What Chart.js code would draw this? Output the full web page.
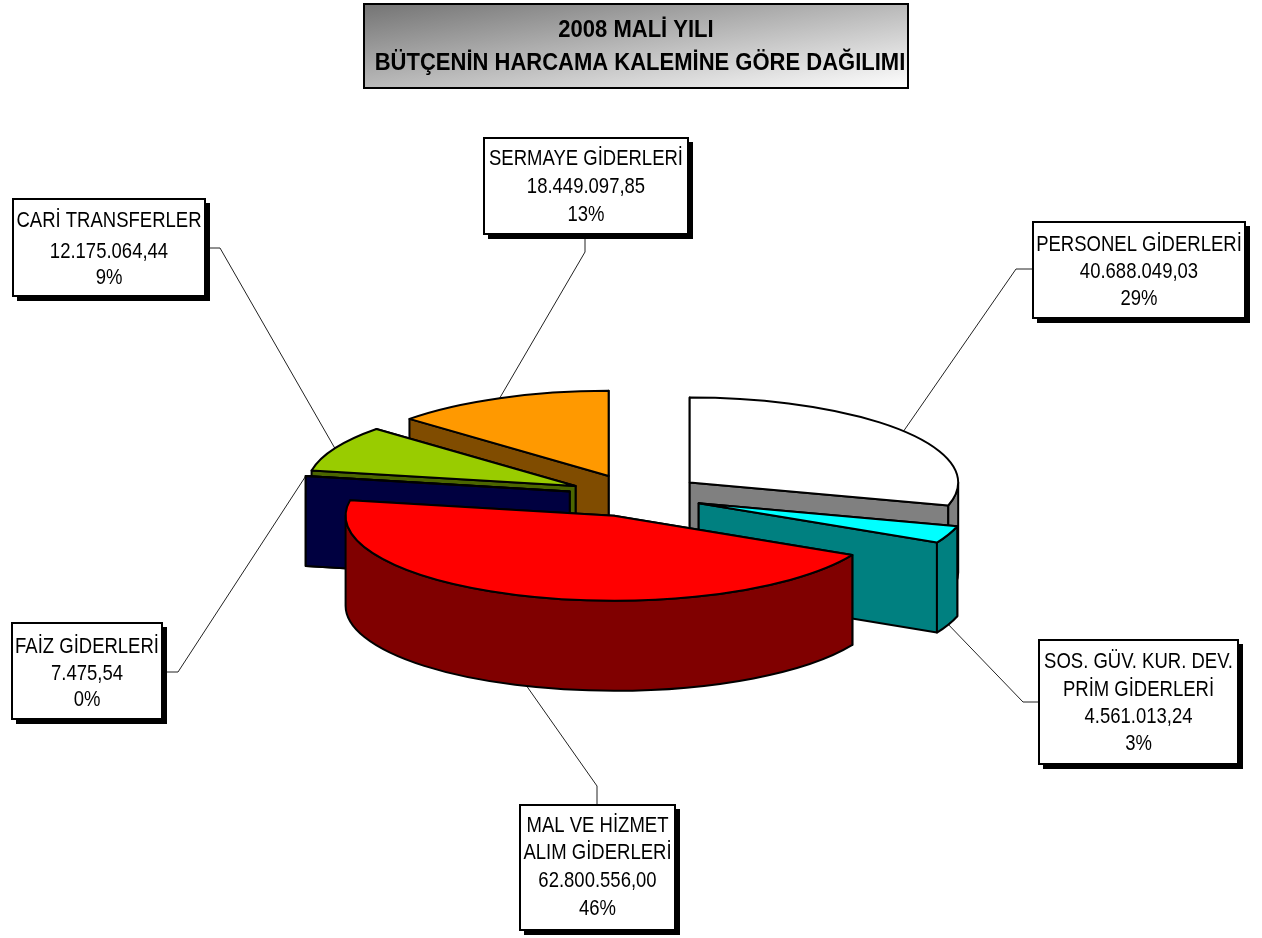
<!DOCTYPE html>
<html lang="tr">
<head>
<meta charset="utf-8">
<title>2008 Mali Yılı</title>
<script src="https://cdn.jsdelivr.net/npm/chart.js@4"></script>
<style>html,body{margin:0;padding:0;background:#fff}canvas{display:block}</style>
</head>
<body>
<canvas id="c" width="1262" height="938"></canvas>
<script>
// ---- data ----
const titleLines = ['2008 MALİ YILI', 'BÜTÇENİN HARCAMA KALEMİNE GÖRE DAĞILIMI'];
const categories = [['PERSONEL GİDERLERİ'], ['SOS. GÜV. KUR. DEV.', 'PRİM GİDERLERİ'], ['MAL VE HİZMET', 'ALIM GİDERLERİ'], ['FAİZ GİDERLERİ'], ['CARİ TRANSFERLER'], ['SERMAYE GİDERLERİ']];
const values = [40688049.03, 4561013.24, 62800556.00, 7475.54, 12175064.44, 18449097.85];
const percents = ['29%', '3%', '46%', '0%', '9%', '13%'];

// ---- styles ----
const topColors = ['#FFFFFF', '#00FFFF', '#FF0000', '#000080', '#99CC00', '#FF9900'];
const wallColors = ['#808080', '#008080', '#800000', '#000040', '#4C6600', '#804C00'];
const paintOrder = [5, 4, 3, 0, 1, 2];

// ---- layout ----
const tilt = 0.317, depth = 90, explode = 67.4, pieRadius = 268.5;
const FONT = '"Liberation Sans", Arial, sans-serif';
const titleBox = [364, 4, 908, 88];
const labelBoxes = [
  {box: [1033, 222, 1245, 318], lines: [243, 270, 297], leader: [[1016, 269], [1033, 269]]},
  {box: [1039, 640, 1238, 764], lines: [660, 688, 715, 742], leader: [[1023, 702], [1039, 702]]},
  {box: [520, 805, 675, 930], lines: [824, 851, 879, 907], leader: [[597, 786], [597, 805]]},
  {box: [12, 623, 162, 719], lines: [645, 672, 698], leader: [[178, 672], [162, 672]]},
  {box: [13, 199, 205, 296], lines: [219, 250, 276], leader: [[220, 248], [205, 248]]},
  {box: [484, 138, 688, 234], lines: [157, 185, 213], leader: [[585, 252], [585, 234]]}
];

const fmt = v => v.toLocaleString('tr-TR', {minimumFractionDigits: 2, maximumFractionDigits: 2});

function drawText(ctx, s, x, y, font, sx) {
  ctx.save();
  ctx.translate(x, y);
  ctx.scale(sx, 1);
  ctx.font = font;
  ctx.fillStyle = '#000';
  ctx.textAlign = 'center';
  ctx.textBaseline = 'middle';
  ctx.fillText(s, 0, 0);
  ctx.restore();
}

const pie3d = {
  id: 'pie3d',
  beforeDatasetsDraw(chart) {
    const ctx = chart.ctx;
    const arcs = chart.getDatasetMeta(0).data;

    const geom = arcs.map(arc => {
      const mid = (arc.startAngle + arc.endAngle) / 2;
      const cx = arc.x + Math.cos(mid) * explode;
      const cy = arc.y + Math.sin(mid) * explode * tilt;
      const R = arc.outerRadius;
      const pt = a => [cx + R * Math.cos(a), cy + R * tilt * Math.sin(a)];
      return {arc, mid, cx, cy, R, pt};
    });

    // leader lines, anchored on the slice edges
    ctx.save();
    ctx.strokeStyle = '#222';
    ctx.lineWidth = 1;
    geom.forEach((g, i) => {
      const p = g.pt(g.mid);
      const front = Math.sin(g.mid) > 0;
      ctx.beginPath();
      ctx.moveTo(p[0], p[1] + (front ? depth : 0));
      labelBoxes[i].leader.forEach(q => ctx.lineTo(q[0], q[1]));
      ctx.stroke();
    });
    ctx.restore();

    // slices, back to front
    paintOrder.forEach(i => {
      const g = geom[i];
      const {arc, cx, cy, R, pt} = g;
      const a0 = arc.startAngle, a1 = arc.endAngle;
      ctx.save();
      ctx.lineWidth = 2;
      ctx.lineJoin = 'round';
      ctx.strokeStyle = '#000';
      ctx.fillStyle = wallColors[i];

      // radial walls, rear one first
      [a0, a1].sort((p, q) => Math.sin(p) - Math.sin(q)).forEach(a => {
        const e = pt(a);
        ctx.beginPath();
        ctx.moveTo(cx, cy);
        ctx.lineTo(e[0], e[1]);
        ctx.lineTo(e[0], e[1] + depth);
        ctx.lineTo(cx, cy + depth);
        ctx.closePath();
        ctx.fill();
        ctx.stroke();
      });

      // outer wall: only the part that faces the viewer
      for (let k = -1; k <= 1; k++) {
        const s = Math.max(a0, k * 2 * Math.PI);
        const e = Math.min(a1, k * 2 * Math.PI + Math.PI);
        if (e <= s) continue;
        ctx.beginPath();
        ctx.ellipse(cx, cy, R, R * tilt, 0, s, e);
        ctx.ellipse(cx, cy + depth, R, R * tilt, 0, e, s, true);
        ctx.closePath();
        ctx.fill();
        ctx.stroke();
      }

      // top face: the library's own arc element, squashed and moved out
      ctx.save();
      ctx.translate(cx, cy);
      ctx.scale(1, tilt);
      ctx.translate(-arc.x, -arc.y);
      arc.draw(ctx);
      ctx.restore();

      ctx.beginPath();
      ctx.moveTo(cx, cy);
      ctx.ellipse(cx, cy, R, R * tilt, 0, a0, a1);
      ctx.closePath();
      ctx.stroke();
      ctx.restore();
    });

    return false;
  },
  afterDraw(chart) {
    const ctx = chart.ctx;
    // title box
    const [tx0, ty0, tx1, ty1] = titleBox;
    const grad = ctx.createLinearGradient(tx0, ty0, tx0 + 25, ty0 + 164);
    grad.addColorStop(0, '#747474');
    grad.addColorStop(1, '#FFFFFF');
    ctx.fillStyle = grad;
    ctx.fillRect(tx0, ty0, tx1 - tx0, ty1 - ty0);
    ctx.strokeStyle = '#000';
    ctx.lineWidth = 2;
    ctx.strokeRect(tx0, ty0, tx1 - tx0, ty1 - ty0);
    drawText(ctx, titleLines[0], (tx0 + tx1) / 2, 30, 'bold 24px ' + FONT, 0.917);
    drawText(ctx, titleLines[1], (tx0 + tx1) / 2 + 4, 63, 'bold 24px ' + FONT, 0.917);

    // data labels
    labelBoxes.forEach((lb, i) => {
      const [x0, y0, x1, y1] = lb.box;
      ctx.fillStyle = '#000';
      ctx.fillRect(x0 + 4, y0 + 4, x1 - x0 + 1, y1 - y0 + 1);
      ctx.fillStyle = '#fff';
      ctx.fillRect(x0, y0, x1 - x0, y1 - y0);
      ctx.lineWidth = 2;
      ctx.strokeRect(x0, y0, x1 - x0, y1 - y0);
      const texts = [...categories[i], fmt(values[i]), percents[i]];
      texts.forEach((t, j) => drawText(ctx, t, (x0 + x1) / 2, lb.lines[j] + 1.5, '22px ' + FONT, 0.841));
    });
  }
};

new Chart(document.getElementById('c'), {
  type: 'pie',
  data: {
    labels: categories.map(c => c.join(' ')),
    datasets: [{
      data: values,
      backgroundColor: topColors,
      borderWidth: 0,
      radius: pieRadius
    }]
  },
  options: {
    responsive: false,
    animation: false,
    events: [],
    rotation: 0,
    layout: {padding: {left: 10, top: 53}},
    plugins: {legend: {display: false}, tooltip: {enabled: false}, title: {display: false}}
  },
  plugins: [pie3d]
});
</script>
</body>
</html>
